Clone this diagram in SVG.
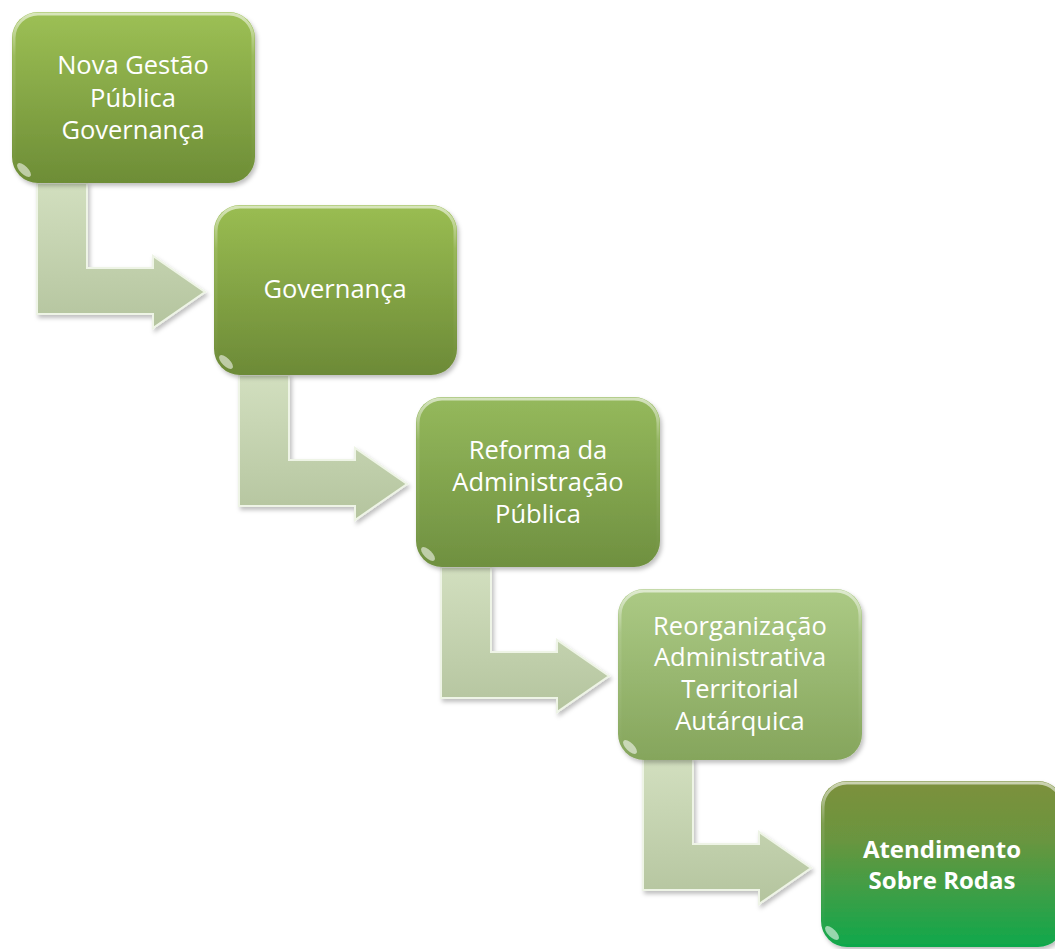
<svg xmlns="http://www.w3.org/2000/svg" width="1055" height="949" viewBox="0 0 1055 949">
<style>
.lbl{font-family:"Open Sans","Liberation Sans",sans-serif;font-size:25.5px;fill:#ffffff;text-anchor:middle}
.bold{font-weight:bold;font-size:24px}
.box{stroke:none}
.hl{fill:none;stroke:url(#hlg);stroke-width:3}
.arrow{fill:url(#ag);stroke:#eef4e6;stroke-width:2;stroke-linejoin:miter;filter:url(#sh)}
.glare{fill:#ffffff;opacity:0.55}
</style>
<defs>
<linearGradient id="g1" x1="0" y1="0" x2="0" y2="1"><stop offset="0" stop-color="#9dc055"/><stop offset="1" stop-color="#6d8d36"/></linearGradient>
<linearGradient id="g2" x1="0" y1="0" x2="0" y2="1"><stop offset="0" stop-color="#9abd52"/><stop offset="1" stop-color="#6c8a37"/></linearGradient>
<linearGradient id="g3" x1="0" y1="0" x2="0" y2="1"><stop offset="0" stop-color="#95b95c"/><stop offset="1" stop-color="#6f9040"/></linearGradient>
<linearGradient id="g4" x1="0" y1="0" x2="0" y2="1"><stop offset="0" stop-color="#acca85"/><stop offset="1" stop-color="#85a55c"/></linearGradient>
<linearGradient id="g5" x1="0" y1="0" x2="0" y2="1"><stop offset="0" stop-color="#7d903c"/><stop offset="0.35" stop-color="#6a953f"/><stop offset="1" stop-color="#0fa84c"/></linearGradient>
<linearGradient id="hlg" x1="0" y1="0" x2="0" y2="1"><stop offset="0" stop-color="#ffffff" stop-opacity="0.6"/><stop offset="0.25" stop-color="#ffffff" stop-opacity="0.1"/><stop offset="1" stop-color="#ffffff" stop-opacity="0"/></linearGradient>
<linearGradient id="ag" x1="0" y1="0" x2="0" y2="1"><stop offset="0" stop-color="#d2dfbf"/><stop offset="1" stop-color="#b4c49e"/></linearGradient>
<filter id="sh" x="-10%" y="-10%" width="130%" height="130%"><feDropShadow dx="2" dy="3" stdDeviation="2" flood-color="#000" flood-opacity="0.25"/></filter>
<path id="arr" d="M37,183 L87,183 L87,268 L153,268 L153,256 L205,292 L153,328 L153,314 L37,314 Z"/>
</defs>

<g id="connectors">
<use href="#arr" class="arrow"/>
<use href="#arr" class="arrow" transform="translate(202,192)"/>
<use href="#arr" class="arrow" transform="translate(404,384)"/>
<use href="#arr" class="arrow" transform="translate(606,576)"/>
</g>

<g id="n1">
<rect class="box" x="12" y="12" width="243" height="171" rx="26" fill="url(#g1)" filter="url(#sh)"/>
<rect class="hl" x="14" y="14" width="239" height="167" rx="24"/>
<ellipse class="glare" cx="24" cy="170" rx="9" ry="4" transform="rotate(45 24 170)"/>
<text class="lbl" x="133" y="74">Nova Gestão</text>
<text class="lbl" x="133" y="107">Pública</text>
<text class="lbl" x="133" y="139">Governança</text>
</g>

<g id="n2">
<rect class="box" x="214" y="205" width="243" height="170" rx="26" fill="url(#g2)" filter="url(#sh)"/>
<rect class="hl" x="216" y="207" width="239" height="166" rx="24"/>
<ellipse class="glare" cx="226" cy="362" rx="9" ry="4" transform="rotate(45 226 362)"/>
<text class="lbl" x="335" y="298">Governança</text>
</g>

<g id="n3">
<rect class="box" x="416" y="397" width="244" height="170" rx="26" fill="url(#g3)" filter="url(#sh)"/>
<rect class="hl" x="418" y="399" width="240" height="166" rx="24"/>
<ellipse class="glare" cx="428" cy="554" rx="9" ry="4" transform="rotate(45 428 554)"/>
<text class="lbl" x="538" y="459">Reforma da</text>
<text class="lbl" x="538" y="491">Administração</text>
<text class="lbl" x="538" y="523">Pública</text>
</g>

<g id="n4">
<rect class="box" x="618" y="589" width="244" height="171" rx="26" fill="url(#g4)" filter="url(#sh)"/>
<rect class="hl" x="620" y="591" width="240" height="167" rx="24"/>
<ellipse class="glare" cx="630" cy="747" rx="9" ry="4" transform="rotate(45 630 747)"/>
<text class="lbl" x="740" y="635">Reorganização</text>
<text class="lbl" x="740" y="666">Administrativa</text>
<text class="lbl" x="740" y="698">Territorial</text>
<text class="lbl" x="740" y="730">Autárquica</text>
</g>

<g id="n5">
<rect class="box" x="821" y="781" width="243" height="166" rx="26" fill="url(#g5)" filter="url(#sh)"/>
<rect class="hl" x="823" y="783" width="239" height="162" rx="24"/>
<ellipse class="glare" cx="832" cy="933" rx="9" ry="4" transform="rotate(45 832 933)"/>
<text class="lbl bold" x="942" y="858">Atendimento</text>
<text class="lbl bold" x="942" y="889">Sobre Rodas</text>
</g>
</svg>
